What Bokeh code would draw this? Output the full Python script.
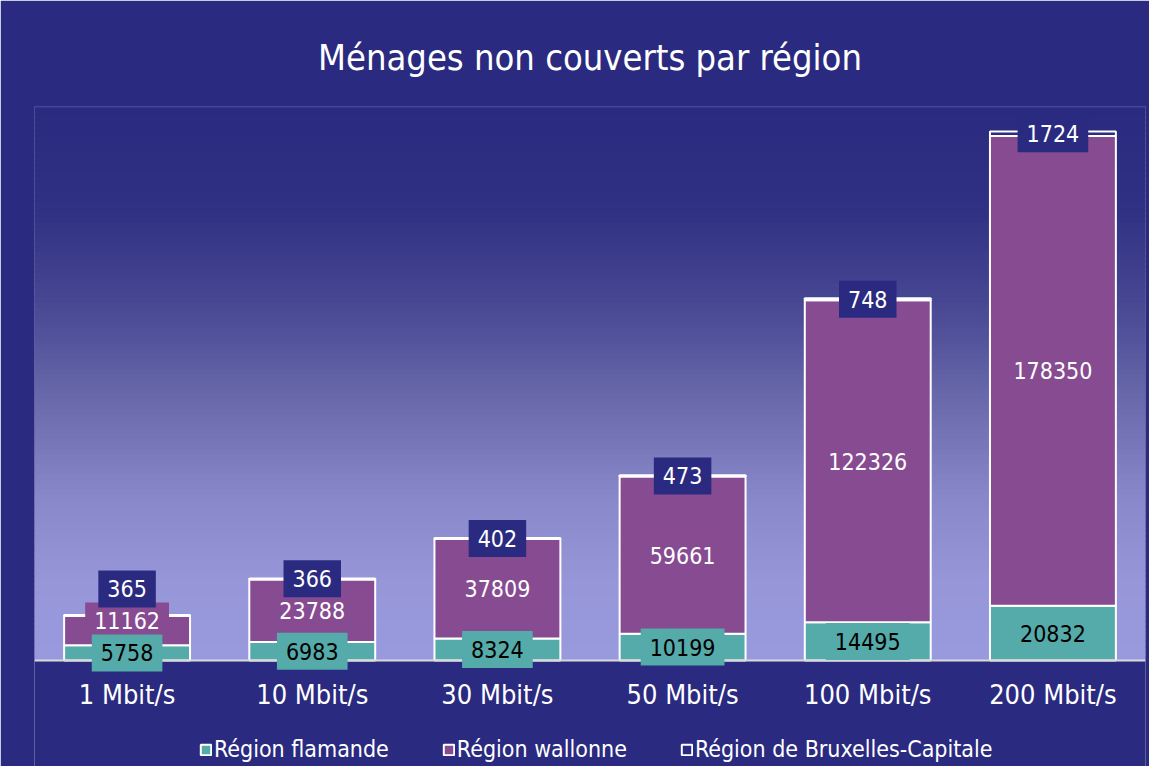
import numpy as np
from bokeh.plotting import figure
from bokeh.models import (ColumnDataSource, Range1d, FactorRange, Legend,
                          LegendItem, Span, BoxAnnotation)
from bokeh.embed import file_html
from bokeh.resources import INLINE

# ---------------- data ----------------
categories = ["1 Mbit/s", "10 Mbit/s", "30 Mbit/s", "50 Mbit/s", "100 Mbit/s", "200 Mbit/s"]
flamande = [5758, 6983, 8324, 10199, 14495, 20832]
wallonne = [11162, 23788, 37809, 59661, 122326, 178350]
bruxelles = [365, 366, 402, 473, 748, 1724]
series_names = ["Région flamande", "Région wallonne", "Région de Bruxelles-Capitale"]
title_text = "Ménages non couverts par région"

# ---------------- style / layout ----------------
NAVY = "#2A2A80"
TEAL = "#55AAAA"
PURPLE = "#874B92"
AXIS_GREY = "#D9D9D9"
FONT = "'DejaVu Sans Condensed', 'Liberation Sans', sans-serif"

W, H = 1149, 766
FL, FR, FT, FB = 34, 4, 106, 0
FRAME_H = H - FT - FB          # whole frame (plot area + room for ticks/legend)
PLOT_H = 554                   # pixel height of the gradient plot area
Y_MAX = 210400
Y_MIN = -Y_MAX * (FRAME_H - PLOT_H) / PLOT_H
BAR_W = 0.68

p = figure(x_range=FactorRange(*categories), y_range=Range1d(Y_MIN, Y_MAX),
           width=W, height=H, output_backend="svg", toolbar_location=None,
           y_axis_location=None,
           min_border_left=FL, min_border_right=FR,
           min_border_top=FT, min_border_bottom=FB,
           background_fill_color=NAVY,
           border_fill_color=NAVY, outline_line_color=None)

p.title.text = title_text
p.title.align = "center"
p.title.text_color = "white"
p.title.text_font = FONT
p.title.text_font_size = "36px"
p.title.text_font_style = "normal"
p.title.standoff = 57

# ---------------- gradient background of plot area ----------------
stop_f = [0.0, 0.17, 0.35, 0.53, 0.71, 0.86, 1.0]          # fraction from top
stop_rgb = [(42, 42, 128), (47, 47, 131), (70, 70, 146), (105, 105, 172),
            (136, 136, 202), (150, 150, 217), (153, 153, 222)]
n_bands = 110
edges = np.linspace(0, Y_MAX, n_bands + 1)
overlap = (edges[1] - edges[0]) * 0.5
for i in range(n_bands):
    mid = (edges[i] + edges[i + 1]) / 2
    f = 1 - mid / Y_MAX
    rgb = [int(round(np.interp(f, stop_f, [c[k] for c in stop_rgb]))) for k in range(3)]
    col = "#%02x%02x%02x" % tuple(rgb)
    p.add_layout(BoxAnnotation(bottom=edges[i], top=min(edges[i + 1] + overlap, Y_MAX),
                               fill_color=col, fill_alpha=1, line_color=None,
                               level="underlay"))

p.add_layout(Span(location=Y_MAX, dimension="width", line_color="#3E3E92",
                  line_width=2))

# ---------------- bars ----------------
src = ColumnDataSource(dict(cat=categories, fl=flamande, wa=wallonne, br=bruxelles))
renderers = p.vbar_stack(["fl", "wa", "br"], x="cat", width=BAR_W, source=src,
                         fill_color=[TEAL, PURPLE, "white"], fill_alpha=[1, 1, 0],
                         line_color="white", line_width=2)

# ---------------- data labels (stacked, nudged apart when too close) ----------------
px_per_unit = PLOT_H / Y_MAX
min_sep = 32 / px_per_unit
fl_y, wa_y, br_y = [], [], []
for f, w, b in zip(flamande, wallonne, bruxelles):
    y1 = f / 2
    y2 = max(f + w / 2, y1 + min_sep)
    y3 = max(f + w + b / 2, y2 + min_sep)
    fl_y.append(y1); wa_y.append(y2); br_y.append(y3)

lab = ColumnDataSource(dict(cat=categories, fl_y=fl_y, wa_y=wa_y, br_y=br_y,
                            fl_t=[str(v) for v in flamande],
                            wa_t=[str(v) for v in wallonne],
                            br_t=[str(v) for v in bruxelles]))


def add_labels(yfield, tfield, bg, tc):
    kw = dict(x="cat", y=yfield, text=tfield, source=lab, text_align="center",
              text_baseline="middle", text_color=tc, text_font_size="23px",
              background_fill_color=bg)
    try:
        r = p.text(text_font={"value": FONT},
                   padding=dict(left=9, right=9, top=10, bottom=10), **kw)
    except Exception:
        r = p.text(text_font={"value": FONT}, padding=9, **kw)
    r.level = "annotation"
    return r


add_labels("wa_y", "wa_t", PURPLE, "white")
add_labels("fl_y", "fl_t", TEAL, "black")
add_labels("br_y", "br_t", NAVY, "white")

# ---------------- axes / grid ----------------
p.xgrid.grid_line_color = None
p.ygrid.grid_line_color = None
ax = p.xaxis[0]
ax.fixed_location = 0
ax.axis_line_color = AXIS_GREY
ax.axis_line_width = 2
ax.major_tick_line_color = None
ax.minor_tick_line_color = None
ax.major_tick_out = 0
ax.major_tick_in = 0
ax.major_label_standoff = 18
ax.major_label_text_color = "white"
ax.major_label_text_font = FONT
ax.major_label_text_font_size = "27px"

# ---------------- legend (inside the lower, navy part of the frame) ----------------
legend = Legend(items=[LegendItem(label=n, renderers=[r])
                       for n, r in zip(series_names, renderers)],
                orientation="horizontal", location=(165, 4),
                background_fill_alpha=0, border_line_color=None,
                label_text_color="white", label_text_font=FONT,
                label_text_font_size="23px", glyph_width=13, glyph_height=13,
                label_standoff=2, spacing=53, padding=0, margin=0)
p.add_layout(legend, "center")

open("out.html", "w").write(file_html(p, INLINE))
